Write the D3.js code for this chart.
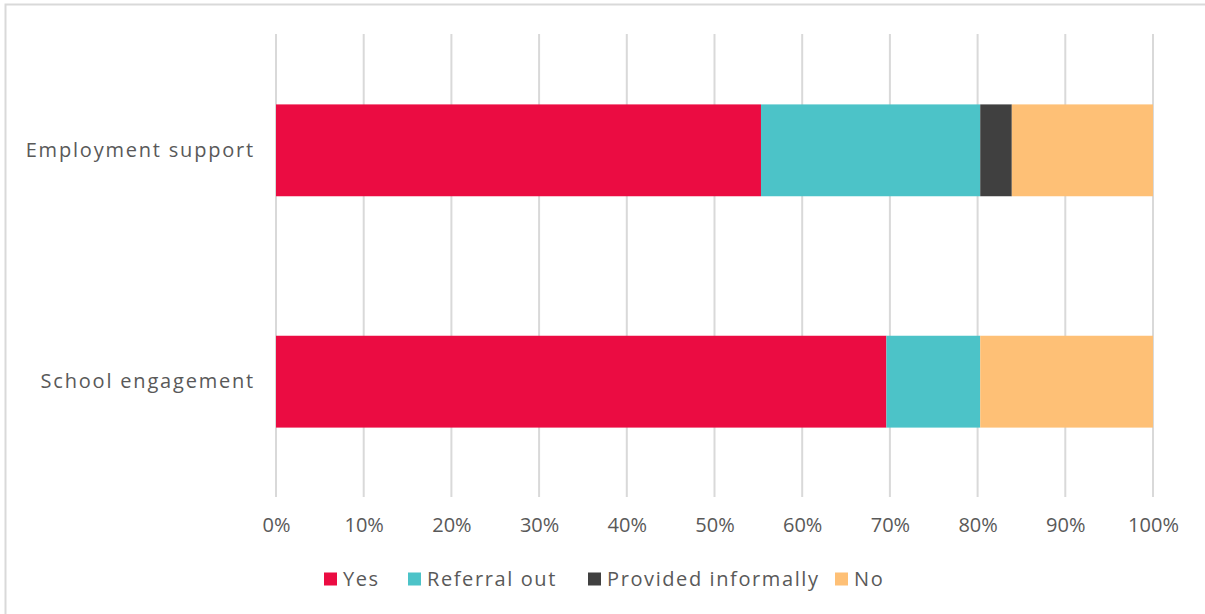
<!DOCTYPE html>
<head>
  <meta charset="utf-8">
  <script src="https://d3js.org/d3.v7.min.js"></script>
  <style>
    body { margin: 0; background: #fff; }
    text { font-family: "Open Sans", sans-serif; fill: #595959; }
  </style>
</head>
<body>
  <script>
    // chart values (percent of respondents)
    var categories = ["Employment support", "School engagement"];
    var seriesNames = ["Yes", "Referral out", "Provided informally", "No"];
    var yesValues = [55.3, 69.6];
    var referralValues = [25.0, 10.7];
    var informalValues = [3.6, 0];
    var noValues = [16.1, 19.7];
    var tickValues = [0, 10, 20, 30, 40, 50, 60, 70, 80, 90, 100];

    var colors = ["#eb0c42", "#4cc3c8", "#404040", "#fec076"];

    var outerWidth = 1205, outerHeight = 614;
    var margin = { top: 35, left: 276, right: 52, bottom: 117 };
    var width = outerWidth - margin.left - margin.right,
      height = outerHeight - margin.top - margin.bottom;

    // build rows for the stack
    var rows = categories.map(function(c, i) {
      return {
        category: c,
        "Yes": yesValues[i],
        "Referral out": referralValues[i],
        "Provided informally": informalValues[i],
        "No": noValues[i]
      };
    });

    var stacked = d3.stack().keys(seriesNames)(rows);

    var xScale = d3.scaleLinear().domain([0, 100]).range([0, width]);
    var yScale = d3.scaleBand().domain(categories).range([0, height]).paddingInner(0.603).paddingOuter(0.3);
    var colorScale = d3.scaleOrdinal().domain(seriesNames).range(colors);

    var svg = d3.select("body").append("svg")
      .attr("width", outerWidth)
      .attr("height", outerHeight);

    // outer frame (only top and left edges are visible)
    svg.append("rect")
      .attr("x", 5.5).attr("y", 4.5)
      .attr("width", outerWidth + 20).attr("height", outerHeight + 20)
      .attr("fill", "none")
      .attr("stroke", "#d9d9d9")
      .attr("stroke-width", 2);

    var g = svg.append("g")
      .attr("transform", "translate(" + margin.left + " " + margin.top + ")");

    // gridlines
    g.selectAll(".grid").data(tickValues).enter().append("line")
      .attr("x1", function(d) { return xScale(d); })
      .attr("x2", function(d) { return xScale(d); })
      .attr("y1", -1).attr("y2", height)
      .attr("stroke", "#d9d9d9")
      .attr("stroke-width", 2);

    // bars
    g.selectAll(".series").data(stacked).enter().append("g")
      .attr("fill", function(d) { return colorScale(d.key); })
      .selectAll("rect").data(function(d) { return d; }).enter().append("rect")
      .attr("x", function(d) { return xScale(d[0]); })
      .attr("width", function(d) { return xScale(d[1]) - xScale(d[0]); })
      .attr("y", function(d) { return yScale(d.data.category); })
      .attr("height", yScale.bandwidth());

    // x axis labels
    var xAxis = d3.axisBottom(xScale).tickValues(tickValues)
      .tickFormat(function(v) { return v + "%"; })
      .tickSize(0).tickPadding(21);
    var xAxisContainer = g.append("g").attr("transform", "translate(0 " + height + ")").call(xAxis);
    xAxisContainer.select(".domain").remove();
    xAxisContainer.selectAll("text")
      .style("font-size", "20px")
      .style("font-family", "'Open Sans', sans-serif")
      .attr("fill", "#595959");

    // y axis labels
    var yAxis = d3.axisLeft(yScale).tickSize(0).tickPadding(21);
    var yAxisContainer = g.append("g").call(yAxis);
    yAxisContainer.select(".domain").remove();
    yAxisContainer.selectAll("text")
      .style("font-size", "20px")
      .style("font-family", "'Open Sans', sans-serif")
      .style("letter-spacing", "1.8px")
      .attr("fill", "#595959");

    // legend
    var legendX = [324, 408, 588, 835];
    var legend = svg.append("g").attr("transform", "translate(0 579)");
    var items = legend.selectAll("g").data(seriesNames).enter().append("g")
      .attr("transform", function(d, i) { return "translate(" + legendX[i] + " 0)"; });
    items.append("rect")
      .attr("y", -6.5).attr("width", 13).attr("height", 13)
      .attr("fill", function(d) { return colorScale(d); });
    items.append("text")
      .attr("x", 19).attr("dy", "0.35em")
      .style("font-size", "20px")
      .style("letter-spacing", "1.6px")
      .text(function(d) { return d; });
  </script>
</body>
